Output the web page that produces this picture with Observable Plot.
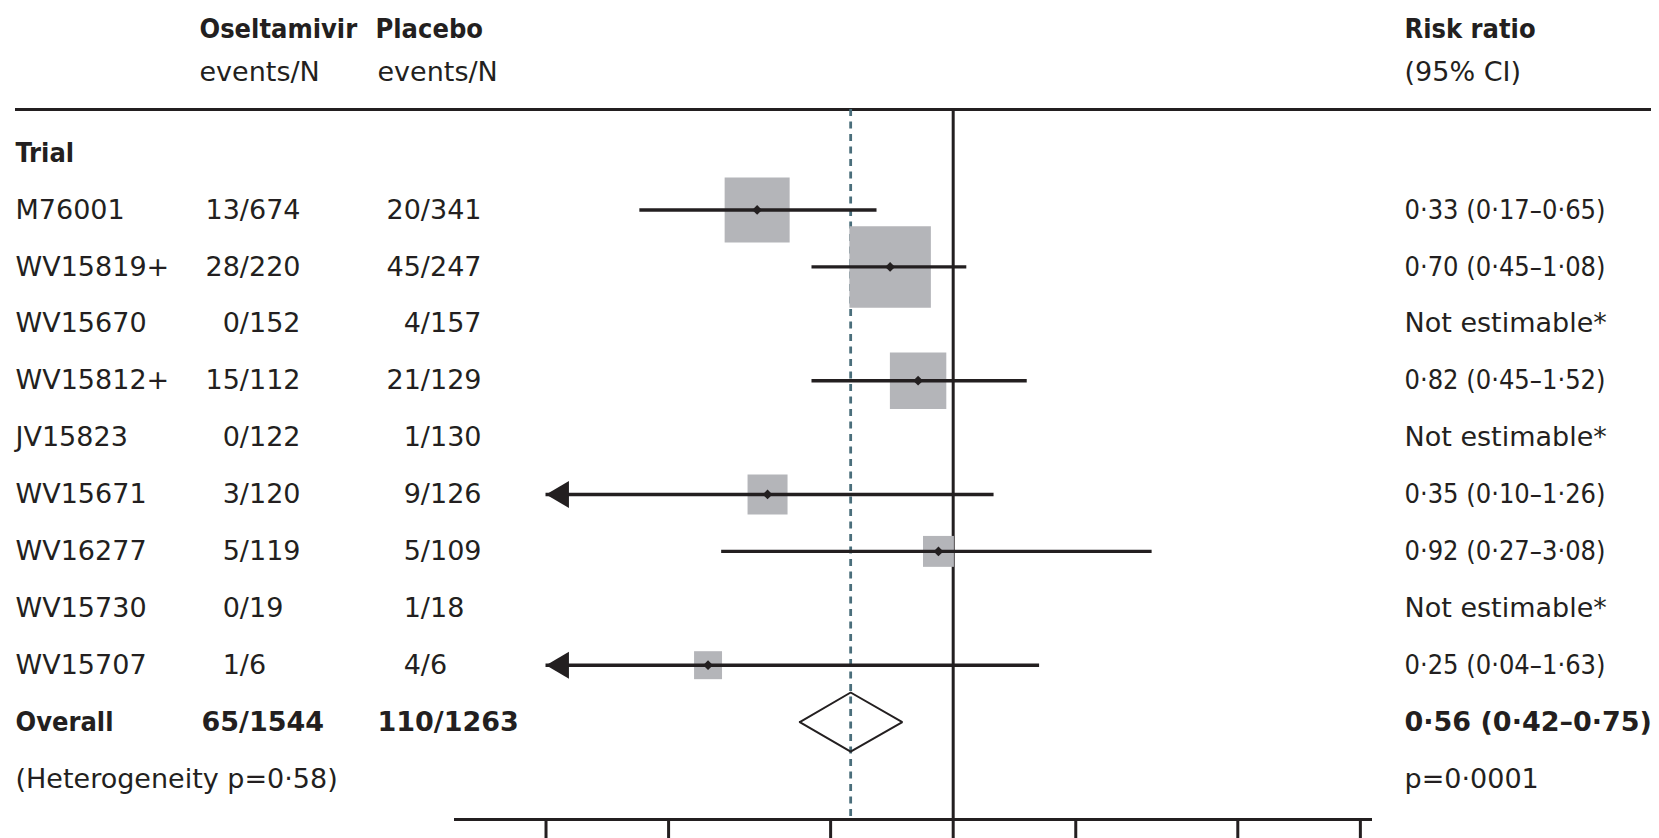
<!DOCTYPE html>
<html><head><meta charset="utf-8">
<script src="https://cdn.jsdelivr.net/npm/d3@7"></script>
<script src="https://cdn.jsdelivr.net/npm/@observablehq/plot@0.6"></script>
<style>
html,body{margin:0;padding:0;background:#fff;overflow:hidden}
#chart svg{display:block}
</style></head><body><div id="chart"></div>
<script>
// ---------- data ----------
const trials = ["M76001","WV15819+","WV15670","WV15812+","JV15823","WV15671","WV16277","WV15730","WV15707"];
const oseltamivirEvents = [13,28,0,15,0,3,5,0,1];
const oseltamivirN      = [674,220,152,112,122,120,119,19,6];
const placeboEvents     = [20,45,4,21,1,9,5,1,4];
const placeboN          = [341,247,157,129,130,126,109,18,6];
const riskRatio = [0.33,0.70,null,0.82,null,0.35,0.92,null,0.25];
const ciLower   = [0.17,0.45,null,0.45,null,0.10,0.27,null,0.04];
const ciUpper   = [0.65,1.08,null,1.52,null,1.26,3.08,null,1.63];
const weightPct = [24.3,38.2,null,18.3,null,9.2,5.5,null,4.5];
const overallEvents = [65,110];
const overallN = [1544,1263];
const overallRR = [0.56,0.42,0.75]; // estimate, lower, upper
const heterogeneityP = "0·58";
const overallP = "0·0001";
const xTicks = [0.1,0.2,0.5,1,2,5,10];
const xExtent = [0.0596,10.71];
const headerTop = ["Oseltamivir","Placebo","Risk ratio"];
const headerBottom = ["events/N","events/N","(95% CI)"];

// ---------- helpers ----------
const ink = "#231f20";
const font = "DejaVu Sans";
const narrow = "'DejaVu Sans Condensed','Open Sans','DejaVu Sans'";
const fs = 27;
const dec = v => v.toFixed(2).replace(".", "·");
const frac = (e, n) => (String(e).length < 2 ? "\u2007" : "") + e + "/" + n;
const rows = trials.map((t, k) => ({
  row: k + 1, trial: t,
  osel: frac(oseltamivirEvents[k], oseltamivirN[k]),
  plac: frac(placeboEvents[k], placeboN[k]),
  rr: riskRatio[k], lo: ciLower[k], hi: ciUpper[k], w: weightPct[k],
  ci: riskRatio[k] == null ? "Not estimable*" : `${dec(riskRatio[k])} (${dec(ciLower[k])}–${dec(ciUpper[k])})`
}));
const est = rows.filter(d => d.rr != null);
const notEst = rows.filter(d => d.rr == null);
const arrowLimit = xTicks[0];
const overallRow = trials.length + 1;
const hetRow = overallRow + 1;
const yTop = -0.766, yBottom = 11.712;
const halfH = 0.52;
const diamond = [
  {x: overallRR[1], y: overallRow},
  {x: overallRR[0], y: overallRow - halfH},
  {x: overallRR[2], y: overallRow},
  {x: overallRR[0], y: overallRow + halfH},
  {x: overallRR[1], y: overallRow}
];
const leftArrow = {
  draw(ctx, size) {
    const r = Math.sqrt(size / Math.PI);
    const h = 2 * r, w = 0.85 * h;
    ctx.moveTo(0, 0);
    ctx.lineTo(w, -h / 2);
    ctx.lineTo(w, h / 2);
    ctx.closePath();
  }
};
const txt = {fill: ink, fontFamily: font, fontSize: fs, textAnchor: "start", frameAnchor: "left", lineAnchor: "middle"};
const hdr = {...txt, frameAnchor: "top-left", lineAnchor: "middle"};

const chart = Plot.plot({
  width: 1659, height: 838,
  marginTop: 109, marginBottom: 19, marginLeft: 15, marginRight: 8,
  style: {fontFamily: font, background: "#fff", overflow: "visible"},
  x: {type: "log", domain: xExtent, range: [454, 1372], axis: null},
  y: {domain: [yBottom, yTop], axis: null},
  r: {type: "sqrt", domain: [0, 100], range: [0, 74.4]},
  marks: [
    // header rule
    Plot.ruleY([yTop], {stroke: ink, strokeWidth: 3}),
    // line of no effect & overall estimate
    Plot.ruleX([1], {stroke: ink, strokeWidth: 3}),
    Plot.ruleX([overallRR[0]], {stroke: "#4a6e7b", strokeWidth: 2.8, strokeDasharray: "7,5.5"}),
    // weight squares
    Plot.dot(est, {x: "rr", y: "row", r: "w", symbol: "square", fill: "#b4b5b9", stroke: "none"}),
    // CI lines
    Plot.ruleY(est, {y: "row", x1: d => Math.max(d.lo, arrowLimit), x2: "hi", stroke: ink, strokeWidth: 3.4}),
    Plot.dot(est.filter(d => d.lo <= arrowLimit), {x: d => Math.max(d.lo, arrowLimit), y: "row", r: 13.5, symbol: leftArrow, fill: ink, stroke: "none"}),
    Plot.dot(est, {x: "rr", y: "row", r: 4.4, symbol: "diamond2", fill: ink, stroke: "none"}),
    // overall diamond
    Plot.line(diamond, {x: "x", y: "y", stroke: ink, strokeWidth: 2, strokeLinejoin: "miter", fill: "none"}),
    // x axis
    Plot.ruleY([yBottom], {x1: xExtent[0], x2: xExtent[1], stroke: ink, strokeWidth: 3}),
    Plot.axisX({ticks: xTicks, tickSize: 30, tickFormat: () => "", stroke: ink, strokeWidth: 3, label: null, anchor: "bottom"}),
    // column headers
    Plot.text([headerTop[0]], {...hdr, dx: 184, dy: -80, fontWeight: "bold", fontFamily: narrow}),
    Plot.text([headerTop[1]], {...hdr, dx: 360, dy: -80, fontWeight: "bold", fontFamily: narrow}),
    Plot.text([headerTop[2]], {...hdr, dx: 1389, dy: -80, fontWeight: "bold", fontFamily: narrow}),
    Plot.text([headerBottom[0]], {...hdr, dx: 184, dy: -37}),
    Plot.text([headerBottom[1]], {...hdr, dx: 362, dy: -37}),
    Plot.text([headerBottom[2]], {...hdr, dx: 1389, dy: -37}),
    // rows
    Plot.text(["Trial"], {...txt, y: [0], text: d => d, fontWeight: "bold", fontFamily: narrow}),
    Plot.text(rows, {...txt, y: "row", text: "trial"}),
    Plot.text(rows, {...txt, y: "row", text: "osel", dx: 190}),
    Plot.text(rows, {...txt, y: "row", text: "plac", dx: 371}),
    Plot.text(est, {...txt, y: "row", text: "ci", dx: 1389, fontFamily: narrow}),
    Plot.text(notEst, {...txt, y: "row", text: "ci", dx: 1389}),
    // overall
    Plot.text(["Overall"], {...txt, y: [overallRow], text: d => d, fontWeight: "bold", fontFamily: narrow}),
    Plot.text([overallEvents[0] + "/" + overallN[0]], {...txt, y: [overallRow], text: d => d, dx: 186, fontWeight: "bold"}),
    Plot.text([overallEvents[1] + "/" + overallN[1]], {...txt, y: [overallRow], text: d => d, dx: 362, fontWeight: "bold"}),
    Plot.text([`${dec(overallRR[0])} (${dec(overallRR[1])}–${dec(overallRR[2])})`], {...txt, y: [overallRow], text: d => d, dx: 1389, fontWeight: "bold"}),
    Plot.text([`(Heterogeneity p=${heterogeneityP})`], {...txt, y: [hetRow], text: d => d}),
    Plot.text([`p=${overallP}`], {...txt, y: [hetRow], text: d => d, dx: 1389})
  ]
});
document.getElementById("chart").append(chart);
</script>
</body></html>
